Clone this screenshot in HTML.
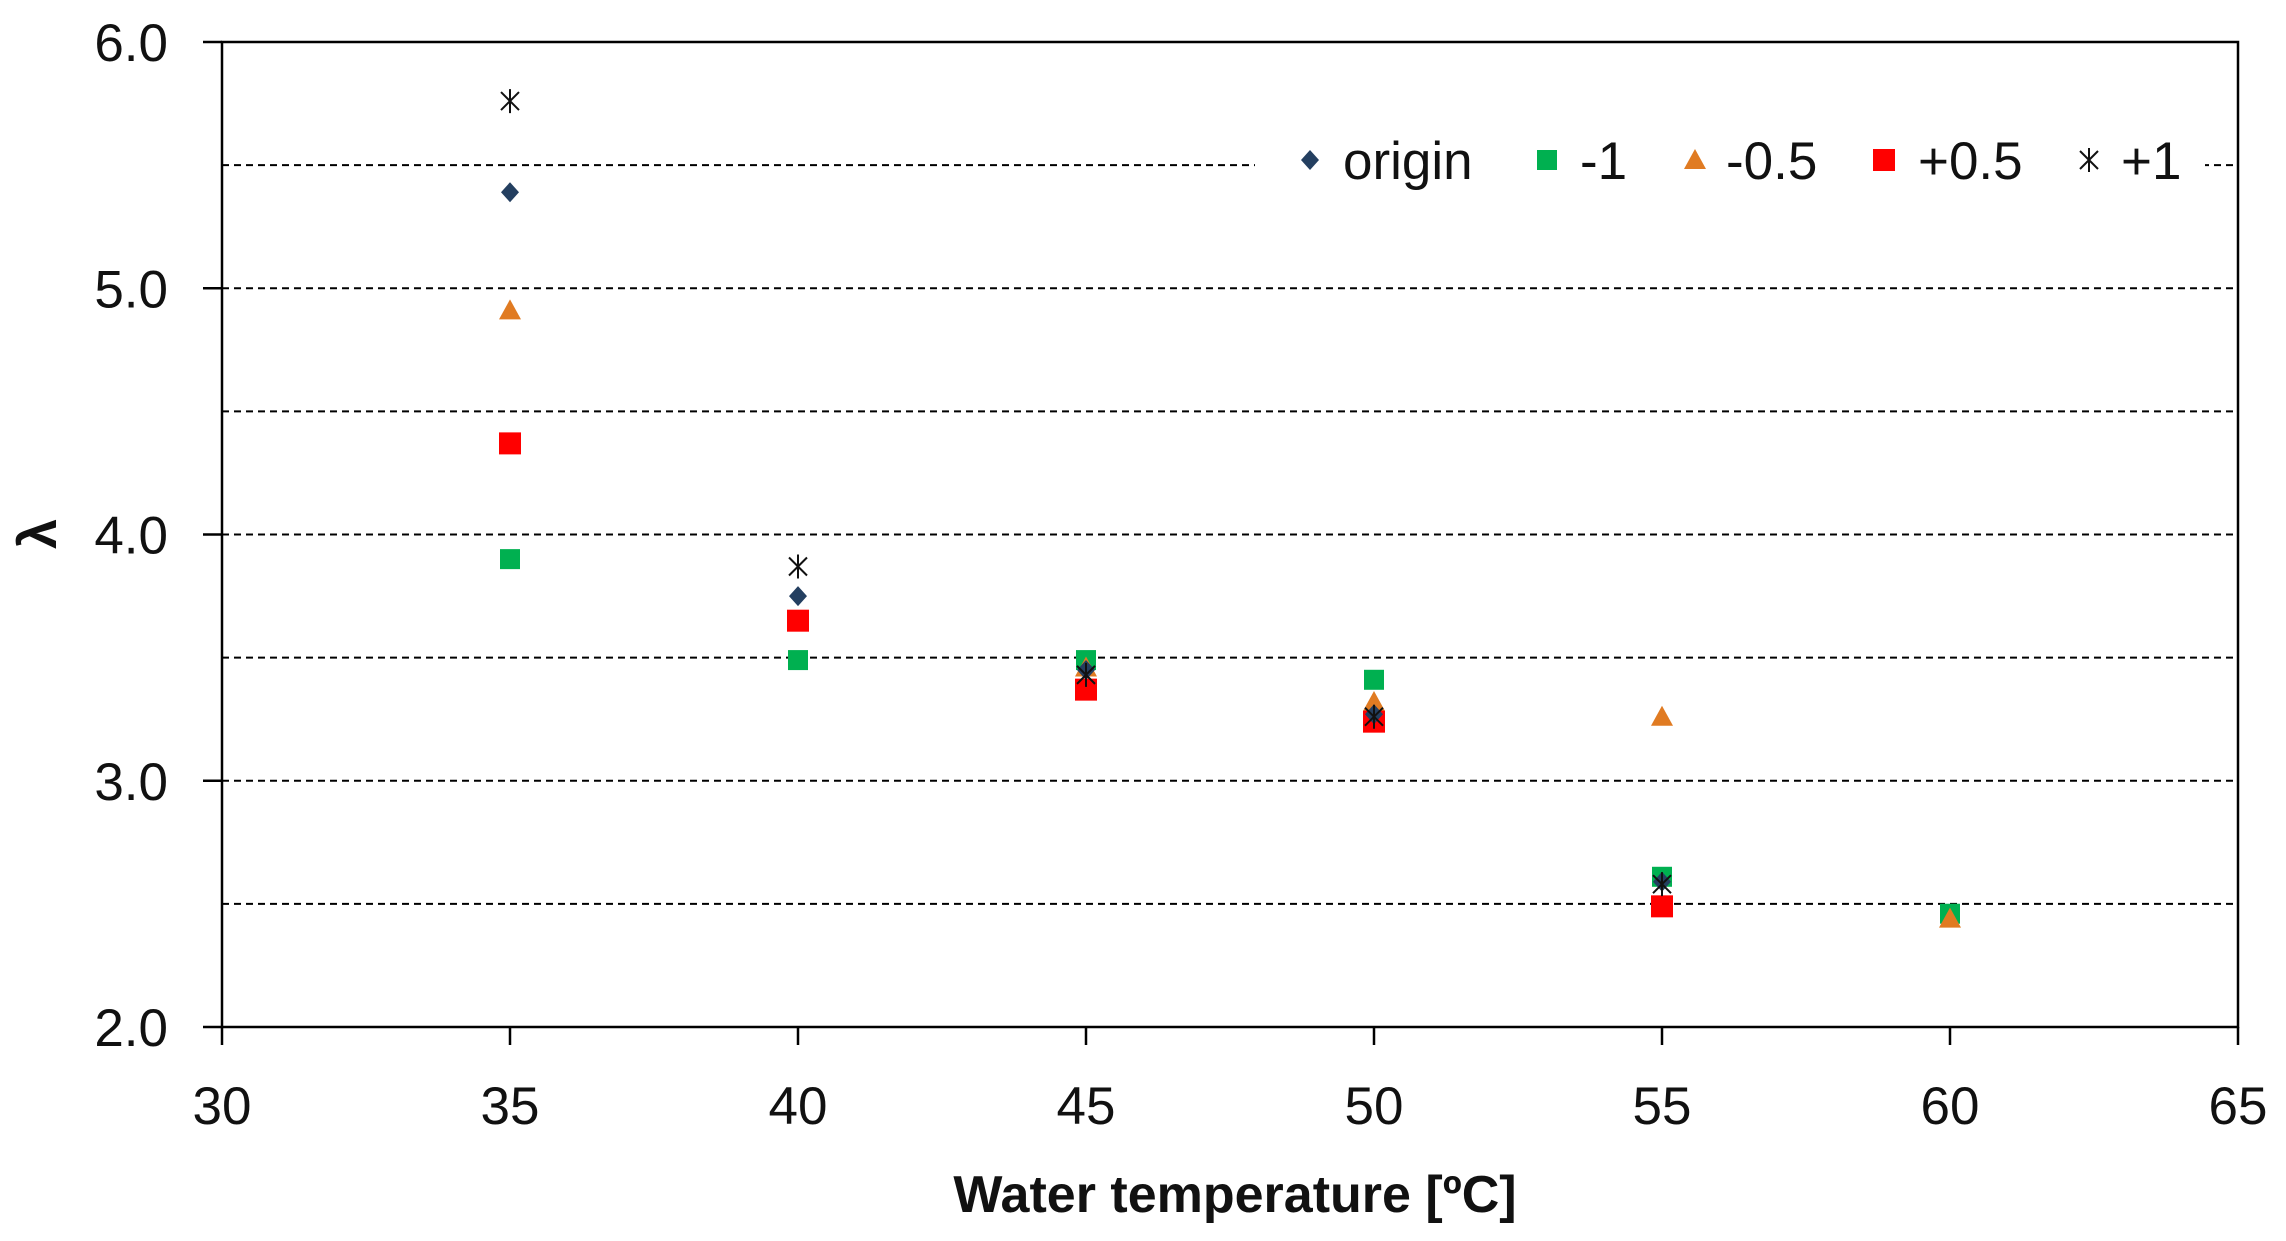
<!DOCTYPE html>
<html><head><meta charset="utf-8"><style>
html,body{margin:0;padding:0;background:#fff;}
svg{display:block;font-family:"Liberation Sans","DejaVu Sans",sans-serif;}
</style></head><body>
<svg id="chart" width="2286" height="1241" viewBox="0 0 2286 1241" xmlns="http://www.w3.org/2000/svg">
<g id="grid"></g>
<g id="axes"></g>
<g id="marks"></g>
<g id="legend"></g>
<text x="1235" y="1212" text-anchor="middle" font-size="52" font-weight="bold" fill="#111">Water temperature [ºC]</text>
<text x="0" y="0" transform="translate(56,534) rotate(-90)" text-anchor="middle" font-size="54" font-weight="bold" fill="#111">λ</text>
</svg>
<script>
const xTicks=[30,35,40,45,50,55,60,65];
const yTicks=[2.0,3.0,4.0,5.0,6.0];
const gridVals=[2.5,3.0,3.5,4.0,4.5,5.0,5.5];
const temps=[35,40,45,50,55,60];
const sOrigin=[5.39,3.75,3.45,3.27,2.59,null];
const sMinus1=[3.90,3.49,3.49,3.41,2.61,2.46];
const sMinus05=[4.91,null,3.46,3.32,3.26,2.44];
const sPlus05=[4.37,3.65,3.37,3.24,2.49,null];
const sPlus1=[5.76,3.87,3.43,3.26,2.58,null];
const seriesNames=['origin','-1','-0.5','+0.5','+1'];

const NS='http://www.w3.org/2000/svg';
const L=222,R=2238,T=42,B=1027;
const xs=v=>L+(v-30)/35*(R-L);
const ys=v=>B-(v-2)/4*(B-T);
function mk(tag,attrs,parent){const e=document.createElementNS(NS,tag);for(const k in attrs)e.setAttribute(k,attrs[k]);parent.appendChild(e);return e;}
const grid=document.getElementById('grid'),axes=document.getElementById('axes'),marks=document.getElementById('marks'),legend=document.getElementById('legend');

gridVals.forEach(v=>{
  const l=mk('line',{x1:L,x2:R,y1:ys(v),y2:ys(v),stroke:'#000','stroke-width':2,'stroke-dasharray':'7,5'},grid);
  
  
});
const frame=mk('rect',{x:L,y:T,width:R-L,height:B-T,fill:'none',stroke:'#000','stroke-width':2.5},axes);


yTicks.forEach(v=>{
  const t=mk('line',{x1:L-19,x2:L,y1:ys(v),y2:ys(v),stroke:'#000','stroke-width':2.5},axes);
  
  
  const tx=mk('text',{x:168,y:ys(v)+19,'text-anchor':'end','font-size':53,fill:'#111'},axes);
  tx.textContent=v.toFixed(1);
  
  
});
xTicks.forEach(v=>{
  const t=mk('line',{x1:xs(v),x2:xs(v),y1:B,y2:B+18,stroke:'#000','stroke-width':2.5},axes);
  
  
  const tx=mk('text',{x:xs(v),y:1124,'text-anchor':'middle','font-size':53,fill:'#111'},axes);
  tx.textContent=String(v);
  
  
});

function marker(type,cx,cy,parent){
  let e;
  if(type==='diamond'){e=mk('path',{d:`M${cx},${cy-10}L${cx+9},${cy}L${cx},${cy+10}L${cx-9},${cy}Z`,fill:'#243F60'},parent);}
  else if(type==='green'){e=mk('rect',{x:cx-10,y:cy-10,width:20,height:20,fill:'#00B050'},parent);}
  else if(type==='tri'){e=mk('path',{d:`M${cx},${cy-11}L${cx+11},${cy+9}L${cx-11},${cy+9}Z`,fill:'#E07B22'},parent);}
  else if(type==='red'){e=mk('rect',{x:cx-11,y:cy-11,width:22,height:22,fill:'#FF0000'},parent);}
  else {e=mk('path',{d:`M${cx-9},${cy-9}L${cx+9},${cy+9}M${cx-9},${cy+9}L${cx+9},${cy-9}M${cx},${cy-12}L${cx},${cy+12}`,stroke:'#111','stroke-width':2,fill:'none'},parent);}
  return e;
}
const allSeries=[[sOrigin,'diamond'],[sMinus1,'green'],[sMinus05,'tri'],[sPlus05,'red'],[sPlus1,'star']];
const drawOrder=[1,2,3,0,4];
drawOrder.forEach(i=>{
  const [vals,type]=allSeries[i];
  vals.forEach((v,j)=>{
    if(v==null)return;
    const e=marker(type,xs(temps[j]),ys(v),marks);
    
    
  });
});

const bg=mk('rect',{x:1255,y:128,width:950,height:66,fill:'#fff'},legend);


const legMk=[1310,1547,1695,1884,2089];
const legTx=[1343,1580,1726,1918,2121];
seriesNames.forEach((n,i)=>{
  const g=mk('g',{},legend);
  
  
  const type=allSeries[i][1];
  marker(type,legMk[i],160,g);
  const t=mk('text',{x:legTx[i],y:179,'font-size':53,fill:'#111'},g);
  t.textContent=n;
});
</script>
</body></html>
